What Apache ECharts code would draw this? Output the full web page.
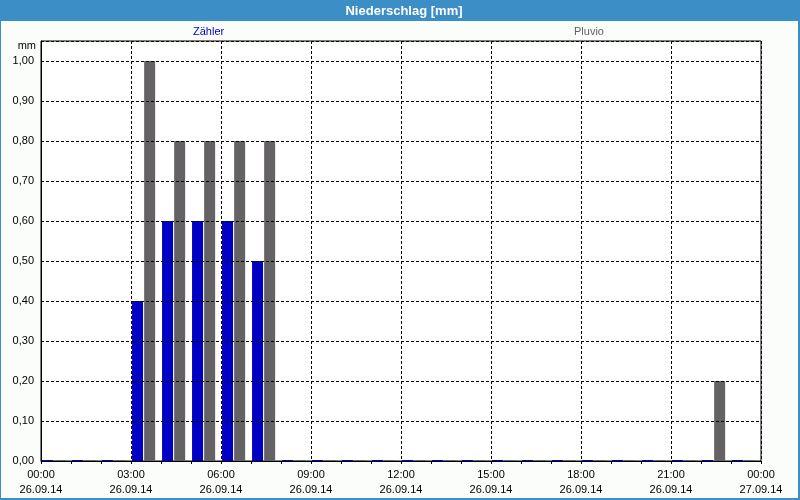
<!DOCTYPE html>
<html><head><meta charset="utf-8">
<script src="https://cdn.jsdelivr.net/npm/echarts@6/dist/echarts.min.js"></script>
<style>html,body{margin:0;padding:0;background:#fff}#c{width:800px;height:500px}</style>
</head><body><div id="c"></div>
<script>
// Data
const hours   = [0,1,2,3,4,5,6,7,8,9,10,11,12,13,14,15,16,17,18,19,20,21,22,23];
const zaehler = [0,0,0,0.4,0.6,0.6,0.6,0.5,0,0,0,0,0,0,0,0,0,0,0,0,0,0,0,0];
const pluvio  = [0,0,0,1.0,0.8,0.8,0.8,0.8,0,0,0,0,0,0,0,0,0,0,0,0,0,0,0.2,0];
const timeLabels = ['00:00','03:00','06:00','09:00','12:00','15:00','18:00','21:00','00:00'];
const dateLabels = ['26.09.14','26.09.14','26.09.14','26.09.14','26.09.14','26.09.14','26.09.14','26.09.14','27.09.14'];
const seriesNames = ['Zähler','Pluvio'];
const titleText = 'Niederschlag [mm]';
const unitText = 'mm';

const FONT = '"Liberation Sans", Arial, sans-serif';
const BLUE = '#0000C4', GRAY = '#646264', FRAME = '#3C8FC6';

const chart = echarts.init(document.getElementById('c'), null, {renderer:'canvas'});
const barPos = h => h + 0.42;
chart.setOption({
  animation:false,
  backgroundColor:'#FBFDFB',
  textStyle:{fontFamily:FONT},
  graphic:[
    {type:'rect', shape:{x:0,y:0,width:800,height:21}, style:{fill:FRAME}, silent:true},
    {type:'rect', shape:{x:0,y:0,width:1,height:500}, style:{fill:FRAME}, silent:true},
    {type:'rect', shape:{x:798,y:0,width:2,height:500}, style:{fill:FRAME}, silent:true},
    {type:'rect', shape:{x:0,y:498,width:800,height:2}, style:{fill:FRAME}, silent:true},
    {type:'text', x:404, y:11, style:{text:titleText, fill:'#fff', font:'bold 13px '+FONT, textAlign:'center', textVerticalAlign:'middle'}, silent:true},
    {type:'text', x:36, y:46, style:{text:unitText, fill:'#000', font:'11px '+FONT, textAlign:'right', textVerticalAlign:'middle'}, silent:true}
  ],
  legend:[
    {data:[{name:seriesNames[0], textStyle:{color:BLUE}}], left:188, top:26, padding:0, itemWidth:0, itemHeight:0, selectedMode:false, textStyle:{fontSize:11, fontFamily:FONT}},
    {data:[{name:seriesNames[1], textStyle:{color:GRAY}}], left:569, top:26, padding:0, itemWidth:0, itemHeight:0, selectedMode:false, textStyle:{fontSize:11, fontFamily:FONT}}
  ],
  grid:{left:41, right:39, top:41, bottom:39, show:true, backgroundColor:'#FFFFFF', borderColor:'#000', borderWidth:1, containLabel:false, outerBoundsMode:'none'},
  xAxis:[
    {type:'value', min:0, max:24, interval:1, position:'bottom', z:10,
     axisLine:{show:true, onZero:false, lineStyle:{color:'#000', width:1}},
     axisTick:{show:true, length:3, lineStyle:{color:'#000'}},
     splitLine:{show:false},
     axisLabel:{color:'#000', fontSize:11, fontFamily:FONT, lineHeight:15, margin:6, showMinLabel:true, showMaxLabel:true,
       formatter:v => (v % 3 === 0) ? timeLabels[v/3] + '\n' + dateLabels[v/3] : ''}},
    {type:'value', min:0, max:24, interval:3, position:'top', z:10,
     axisLine:{show:false}, axisTick:{show:false}, axisLabel:{show:false},
     splitLine:{show:true, lineStyle:{color:'#000', type:[3,2], width:1}}}
  ],
  yAxis:{type:'value', min:0, max:1.05, interval:0.1, z:10,
    axisLine:{show:true, lineStyle:{color:'#000'}},
    axisTick:{show:false},
    splitLine:{show:true, lineStyle:{color:'#000', type:[3,2], width:1}},
    axisLabel:{color:'#000', fontSize:11, fontFamily:FONT, margin:7, showMaxLabel:false,
      formatter:v => v > 1.001 ? '' : v.toFixed(2).replace('.', ',')}},
  series:[
    {name:seriesNames[0], type:'bar', xAxisIndex:0, barWidth:11, barGap:'10%', barMinHeight:1, z:2,
     itemStyle:{color:BLUE}, data:hours.map((h,i)=>[barPos(h), zaehler[i]])},
    {name:seriesNames[1], type:'bar', xAxisIndex:0, barWidth:11, barGap:'10%', barMinHeight:1, z:2,
     itemStyle:{color:GRAY}, data:hours.map((h,i)=>[barPos(h), pluvio[i]])}
  ]
});
</script></body></html>
